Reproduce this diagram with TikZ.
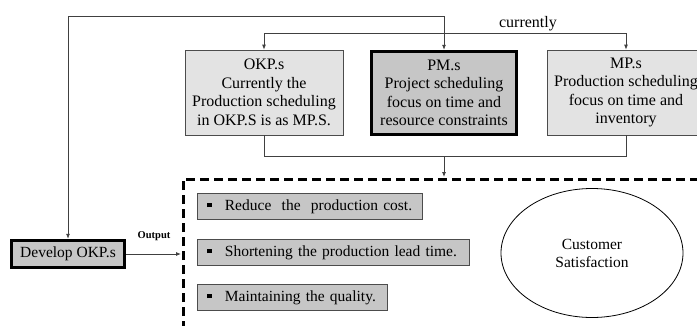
\documentclass[tikz,border=0pt]{standalone}
\usepackage{fontspec}
\setmainfont{Liberation Serif}
\usetikzlibrary{arrows.meta,shapes.geometric}

\begin{document}
\begin{tikzpicture}[x=1pt,y=-1pt,
    >={Latex[length=5pt,width=4pt]},
    link/.style={draw=black!75,line width=0.8pt},
    plainbox/.style={draw=black!70,line width=0.8pt,fill=gray!22,align=center,
      minimum width=158pt,minimum height=85pt,inner sep=1pt,
      font=\fontsize{16}{18.5}\selectfont},
    mainbox/.style={plainbox,draw=black,line width=3.4pt,fill=gray!45},
    goalbar/.style={draw=black!70,line width=0.8pt,fill=gray!45,anchor=north west,
      minimum height=26pt,inner xsep=10pt,inner ysep=0pt,text width=#1,align=left,
      font=\fontsize{15.5}{17}\selectfont},
    goalline/.style={line width=3pt,dash pattern=on 9pt off 5pt}]
  \useasboundingbox (0,0) rectangle (697,325);
  % current scheduling approaches
  \node[plainbox] (okp) at (264,92.5) {OKP.s\\Currently the\\Production scheduling\\in OKP.S is as MP.S.};
  \node[mainbox,minimum width=145pt,minimum height=83pt] (pm) at (444,93) {PM.s\\Project scheduling\\focus on time and\\resource constraints};
  \node[plainbox] (mp) at (626,92.5) {MP.s\\Production scheduling\\focus on time and\\inventory};
  \node[font=\fontsize{16}{18}\selectfont] (currently) at (528,24) {currently};
  % developed approach
  \node[mainbox,minimum width=113pt,minimum height=27pt,font=\fontsize{15.5}{17}\selectfont] (develop) at (68,254) {Develop OKP.s};
  \node[font=\bfseries\fontsize{10.5}{12}\selectfont] (output) at (154,236) {Output};
  % outputs
  \node[goalbar=205pt] (cost) at (197,193) {\rule[3pt]{4.5pt}{4.5pt}\hspace{13pt}Reduce\ \ the\ \ production cost.};
  \node[goalbar=252pt] (leadtime) at (197,239) {\rule[3pt]{4.5pt}{4.5pt}\hspace{13pt}Shortening the production lead time.};
  \node[goalbar=170pt] (quality) at (197,284) {\rule[3pt]{4.5pt}{4.5pt}\hspace{13pt}Maintaining the quality.};
  \node[draw,line width=0.8pt,ellipse,minimum width=182pt,minimum height=129pt,align=center,
    font=\fontsize{15.5}{18}\selectfont] (customer) at (592,253) {Customer\\Satisfaction};
  \draw[goalline] (183,330) -- (183,179) -- (705,179);
  \coordinate (corner) at (68,16);
  \coordinate (join) at (444,156);
  \coordinate (goaltop) at (444,177);
  \coordinate (goalside) at (181,254);
  % connectors
  \draw[link,<->] (develop.north) -- (corner) -| (pm.north);
  \draw[link,<->] (okp.north) -- ++(0,-16) -| (mp.north);
  \draw[link] (okp.south) -- ++(0,21) -| (mp.south);
  \draw[link,->] (join) -- (goaltop);
  \draw[link,->] (develop.east) -- (goalside);
\end{tikzpicture}
\end{document}
